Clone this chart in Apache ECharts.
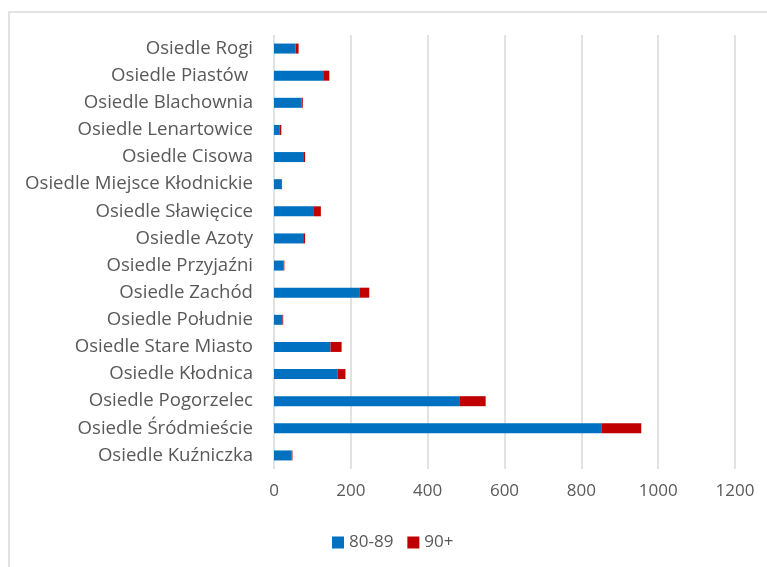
<!DOCTYPE html>
<html><head><meta charset="utf-8">
<script src="https://cdn.jsdelivr.net/npm/echarts@6/dist/echarts.min.js"></script>
<style>html,body{margin:0;padding:0;background:#fff}#c{width:767px;height:567px}</style>
</head><body><div id="c"></div>
<script>
const categories = ["Osiedle Rogi","Osiedle Piastów ","Osiedle Blachownia","Osiedle Lenartowice","Osiedle Cisowa","Osiedle Miejsce Kłodnickie","Osiedle Sławięcice","Osiedle Azoty","Osiedle Przyjaźni","Osiedle Zachód","Osiedle Południe","Osiedle Stare Miasto","Osiedle Kłodnica","Osiedle Pogorzelec","Osiedle Śródmieście","Osiedle Kuźniczka"];
const s8089 = [56,128,72,14,78,19,104,76,25,222,22,147,166,484,852,46];
const s90 = [8,16,3,5,3,2,18,5,2,26,2,29,20,67,104,2];
const xTicks = [0,200,400,600,800,1000,1200];

const chart = echarts.init(document.getElementById('c'));
const font = '"Open Sans", sans-serif';
chart.setOption({
  animation:false,
  graphic:[{type:'rect',shape:{x:9,y:12,width:800,height:600},style:{fill:'none',stroke:'#d9d9d9',lineWidth:1.5},silent:true}],
  grid:{left:274,right:32,top:35,bottom:98,containLabel:false},
  xAxis:{type:'value',min:xTicks[0],max:xTicks[xTicks.length-1],interval:200,
    axisLine:{show:false},axisTick:{show:false},
    axisLabel:{color:'#595959',fontSize:17,fontFamily:font,margin:14,formatter:v=>String(v)},
    splitLine:{lineStyle:{color:'#d9d9d9',width:1.5}}},
  yAxis:{type:'category',data:categories,inverse:true,
    axisLine:{show:false},axisTick:{show:false},
    axisLabel:{color:'#595959',fontSize:18.6,fontFamily:font,margin:21,padding:[3,0,0,0]}},
  legend:{bottom:11,left:327,itemWidth:12,itemHeight:12,itemGap:14,icon:'rect',
    textStyle:{color:'#595959',fontSize:17,fontFamily:font}},
  series:[
    {name:'80-89',type:'bar',stack:'a',data:s8089,barWidth:10,itemStyle:{color:'#0070C0'}},
    {name:'90+',type:'bar',stack:'a',data:s90,barWidth:10,itemStyle:{color:'#C00000'}}
  ]
});
</script></body></html>
